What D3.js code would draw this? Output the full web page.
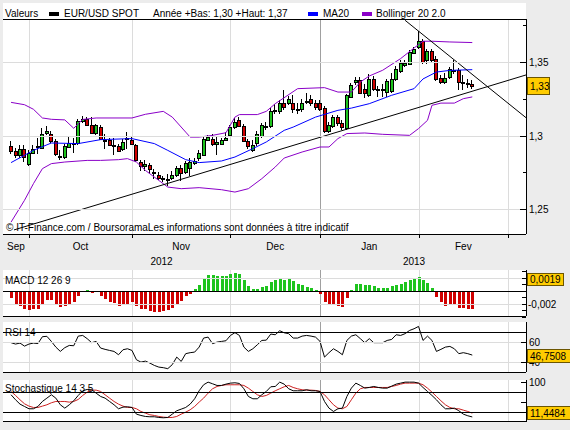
<!DOCTYPE html>
<html>
<head>
<meta charset="utf-8">
<script src="https://cdn.jsdelivr.net/npm/d3@7"></script>
<style>
  body { margin: 0; background: #ececec; }
  svg text { font-family: "Liberation Sans", Arial, sans-serif; font-size: 10px; fill: #000; }
</style>
</head>
<body>
<script>
// ---- data (trading days from 25 Sep 2012, index 0) ----
const opens = [1.2929,1.2898,1.2871,1.2912,1.2807,1.2885,1.2927,1.2916,1.3016,1.3014,
1.2963,1.2861,1.2857,1.2925,1.2944,1.2950,1.3097,1.3111,1.3075,1.3020,
1.3061,1.2971,1.2968,1.2939,1.2927,1.2907,1.2978,1.2973,1.2934,1.2823,
1.2792,1.2803,1.2751,1.2735,1.2710,1.2708,1.2712,1.2732,1.2783,1.2751,
1.2778,1.2814,1.2851,1.2871,1.2973,1.2977,1.2946,1.2946,1.2973,1.3002,
1.3058,1.3109,1.3068,1.2963,1.2905,1.2948,1.2997,1.3061,1.3065,1.3165,
1.3165,1.3224,1.3224,1.3224,1.3172,1.3179,1.3233,1.3246,1.3224,1.3224,
1.3187,1.3034,1.3065,1.3124,1.3084,1.3052,1.3265,1.3364,1.3378,1.3319,
1.3274,1.3382,1.3314,1.3319,1.3296,1.3301,1.3382,1.3437,1.3477,1.3486,
1.3564,1.3602,1.3642,1.3511,1.3574,1.3523,1.3394,1.3364,1.3398,1.3448,
1.3448,1.3364,1.3357,1.3348];
const highs = [1.2966,1.2916,1.2934,1.2934,1.2900,1.2939,1.2982,1.3050,1.3065,1.3029,
1.2975,1.2900,1.2941,1.2988,1.2984,1.3111,1.3133,1.3128,1.3124,1.3077,
1.3070,1.3009,1.2982,1.2984,1.2941,1.2975,1.3022,1.2988,1.2941,1.2837,
1.2832,1.2812,1.2771,1.2751,1.2724,1.2737,1.2758,1.2792,1.2798,1.2825,
1.2846,1.2846,1.2900,1.2988,1.3005,1.3009,1.2995,1.2982,1.3022,1.3070,
1.3117,1.3124,1.3077,1.2975,1.2968,1.3034,1.3084,1.3090,1.3185,1.3213,
1.3240,1.3308,1.3267,1.3274,1.3219,1.3246,1.3287,1.3274,1.3240,1.3240,
1.3199,1.3090,1.3138,1.3138,1.3104,1.3280,1.3355,1.3396,1.3396,1.3348,
1.3416,1.3403,1.3335,1.3348,1.3382,1.3423,1.3471,1.3511,1.3511,1.3579,
1.3600,1.3708,1.3654,1.3586,1.3586,1.3538,1.3409,1.3423,1.3464,1.3516,
1.3457,1.3409,1.3382,1.3375];
const lows = [1.2885,1.2853,1.2853,1.2830,1.2803,1.2880,1.2880,1.2914,1.3009,1.2958,
1.2871,1.2844,1.2846,1.2921,1.2889,1.2946,1.3090,1.3070,1.3016,1.3009,
1.2975,1.2916,1.2934,1.2878,1.2893,1.2900,1.2914,1.2941,1.2829,1.2764,
1.2764,1.2751,1.2715,1.2703,1.2692,1.2663,1.2703,1.2726,1.2696,1.2744,
1.2730,1.2805,1.2832,1.2866,1.2968,1.2934,1.2878,1.2941,1.2968,1.2995,
1.3054,1.3063,1.2961,1.2917,1.2897,1.2934,1.2988,1.3043,1.3056,1.3151,
1.3151,1.3182,1.3213,1.3158,1.3151,1.3165,1.3219,1.3206,1.3179,1.3172,
1.3022,1.3022,1.3056,1.3070,1.3043,1.3046,1.3260,1.3348,1.3287,1.3260,
1.3267,1.3308,1.3267,1.3267,1.3267,1.3294,1.3375,1.3430,1.3471,1.3484,
1.3559,1.3593,1.3491,1.3491,1.3498,1.3375,1.3355,1.3355,1.3389,1.3423,
1.3314,1.3314,1.3328,1.3321];
const closes = [1.2898,1.2871,1.2912,1.2857,1.2885,1.2912,1.2932,1.3014,1.3034,1.2963,
1.2878,1.2853,1.2927,1.2952,1.2948,1.3097,1.3115,1.3075,1.3020,1.3070,
1.2980,1.2968,1.2939,1.2929,1.2898,1.2957,1.2982,1.2946,1.2832,1.2796,
1.2810,1.2776,1.2747,1.2710,1.2707,1.2705,1.2735,1.2783,1.2746,1.2814,
1.2819,1.2825,1.2882,1.2980,1.2990,1.2941,1.2955,1.2973,1.2986,1.3058,
1.3095,1.3068,1.2963,1.2927,1.2936,1.3009,1.3070,1.3066,1.3165,1.3172,
1.3224,1.3192,1.3246,1.3183,1.3183,1.3224,1.3236,1.3219,1.3192,1.3183,
1.3029,1.3070,1.3124,1.3084,1.3056,1.3274,1.3342,1.3378,1.3292,1.3292,
1.3382,1.3314,1.3312,1.3312,1.3369,1.3382,1.3455,1.3491,1.3491,1.3568,
1.3586,1.3642,1.3500,1.3574,1.3511,1.3387,1.3364,1.3394,1.3455,1.3439,
1.3364,1.3362,1.3355,1.3338];

// MA20 and Bollinger bands, read at sample days
const maIdx = [0,5,9,15,20,27,32,35,39,42,47,50,54,57,61,63,68,73,76,80,85,90,92,95,98,103];
const maVal = [1.2817,1.2900,1.2950,1.2946,1.2973,1.2980,1.2946,1.2900,1.2837,1.2817,1.2828,1.2855,1.2912,1.2957,1.3036,1.3058,1.3126,1.3172,1.3187,1.3217,1.3274,1.3319,1.3385,1.3432,1.3443,1.3448];
const upIdx = [0,3,5,7,9,12,14,16,19,27,30,34,36,39,40,42,45,48,50,51,55,57,59,64,70,73,76,78,80,83,87,90,92,94,98,103];
const upVal = [1.3226,1.3210,1.3179,1.3120,1.3111,1.3107,1.3050,1.3110,1.3120,1.3120,1.3145,1.3165,1.3126,1.3024,1.2990,1.2990,1.3002,1.3020,1.3126,1.3143,1.3143,1.3165,1.3217,1.3319,1.3326,1.3296,1.3296,1.3364,1.3405,1.3444,1.3523,1.3595,1.3641,1.3641,1.3636,1.3632];
const loIdx = [0,3,5,7,9,12,17,20,24,26,28,30,33,35,38,42,47,50,53,56,59,61,65,69,71,73,75,79,83,89,91,93,94,96,99,101,103];
const loVal = [1.2413,1.2561,1.2674,1.2776,1.2810,1.2821,1.2832,1.2832,1.2837,1.2844,1.2821,1.2764,1.2696,1.2651,1.2640,1.2647,1.2633,1.2617,1.2640,1.2708,1.2787,1.2848,1.2889,1.2923,1.2923,1.2980,1.3014,1.3018,1.3009,1.3002,1.3048,1.3104,1.3206,1.3221,1.3221,1.3251,1.3263];

// trend lines [day index, price]
const trendUp = [[0.65, 1.2360], [115, 1.3412]];
const trendDown = [[88, 1.3783], [115, 1.3122]];

const macdHist = [-0.00103,-0.00195,-0.00226,-0.00277,-0.00287,-0.00277,-0.00277,-0.00200,-0.00139,-0.00144,
-0.00200,-0.00241,-0.00226,-0.00200,-0.00174,-0.00072,-0.00010,0.00021,-0.00026,0.00003,
-0.00072,-0.00123,-0.00164,-0.00190,-0.00226,-0.00205,-0.00195,-0.00174,-0.00226,-0.00277,
-0.00282,-0.00303,-0.00318,-0.00328,-0.00308,-0.00292,-0.00257,-0.00205,-0.00154,-0.00077,
-0.00041,0.00031,0.00092,0.00195,0.00246,0.00246,0.00231,0.00231,0.00236,0.00257,
0.00277,0.00257,0.00169,0.00077,0.00031,0.00031,0.00062,0.00072,0.00144,0.00169,
0.00195,0.00169,0.00195,0.00154,0.00103,0.00092,0.00067,0.00051,0.00021,-0.00046,
-0.00164,-0.00215,-0.00215,-0.00226,-0.00241,-0.00113,0.00021,0.00108,0.00108,0.00092,
0.00092,0.00082,0.00051,0.00041,0.00051,0.00082,0.00092,0.00103,0.00144,0.00169,
0.00185,0.00221,0.00169,0.00128,0.00051,-0.00087,-0.00174,-0.00226,-0.00205,-0.00205,
-0.00257,-0.00267,-0.00282,-0.00282];

const rsi = [59.4,58,59,55.9,58,59,58.5,65.5,65.9,60.7,
54.9,50.5,54.3,56.6,56.3,66.1,66.8,63.5,59.4,60.7,
53.9,52.6,51.5,50.5,47.1,52.2,53.2,51.5,42,39.6,
40.6,38.6,36.2,34.5,33.9,32.9,37,44.7,40.3,48.2,
49.2,49.8,54.9,64.1,65.1,58.4,60,60.7,61.4,66.8,
69.6,66.8,54.9,50.5,53.2,57.3,61.7,62,68.2,67.5,
71.6,69.5,68.6,64.1,64.1,66.1,66.8,66.1,65.1,60.7,
44.7,49.2,53.2,50.5,47.1,61.7,66.1,67.5,63.5,59.4,
63.5,59.4,59.4,59.4,61.7,62.7,67.5,66.8,68.6,71.9,
73.6,76,61.7,66.1,61.7,50.5,52.6,54.9,55.6,53.2,
48.2,49.2,48.2,46.75];

const stochK = [66.8,54.3,43.4,37.6,31.8,31.8,37.6,50.1,58.4,66.8,
58.4,41.8,33.4,41.8,51.8,65.1,76.8,80.1,79.3,70.9,
62.6,58.4,50.1,41.8,31.8,35.9,36.8,35.1,18.4,15.1,
12.6,11.8,11.8,10.1,9.3,10.1,18.4,26.8,30.9,35.1,
43.4,56.8,76.8,91.8,98.4,94.3,90.1,90.1,93.4,95.9,
96.8,95.1,81.8,62.6,56.8,56.8,66.8,75.1,86.8,87.6,
98.4,93.4,81.8,76.8,76.8,76.8,79.3,76.8,76.8,75.1,
50.1,33.4,25.1,31.8,33.4,62.6,83.4,95.9,90.1,83.4,
85.1,87.6,85.1,83.4,83.4,88.4,93.4,95.9,98.4,98.4,
98.4,95.9,85.1,75.1,65.1,54.3,41.8,31.8,31.8,33.4,
26.8,18.4,14.3,11.4];
const stochD = [75.1,65.1,54.3,44.3,38.4,35.1,35.1,38.4,41.8,46.8,
50.1,50.1,50.1,48.4,50.1,55.1,65.1,73.4,78.4,78.4,
75.1,66.8,58.4,50.1,43.4,38.4,35.1,35.1,31.8,25.1,
20.9,16.8,15.1,12.6,10.9,10.1,10.1,12.6,18.4,23.4,
29.3,37.6,48.4,58.4,70.9,81.8,87.6,90.1,91.8,91.8,
91.8,91.8,90.1,83.4,75.1,66.8,62.6,65.1,70.9,76.8,
81.8,86.8,90.1,85.1,81.8,79.3,78.4,78.4,77.6,75.1,
66.8,54.3,41.8,33.4,31.8,37.6,54.3,70.9,81.8,85.1,
85.1,85.1,85.1,85.1,85.1,87.6,90.1,93.4,95.9,95.9,
95.9,95.9,91.8,83.4,73.4,62.6,51.8,41.8,35.1,31.8,
31.8,28.4,25.1,20.9];

const monthStarts = [4, 27, 49, 69, 91, 111];
const monthLabels = ["Sep", "Oct", "Nov", "Dec", "Jan", "Fev"];
const yearLabels = ["2012", "2013"];
const yearBreak = 69;
const priceTicks = [1.25, 1.3, 1.35];
const priceMinor = [1.275, 1.325, 1.375];
const macdTicks = [-0.004, -0.003, -0.002, -0.001, 0.001, 0.002, 0.003];

const lastPrice = "1,33", lastMacd = 0.0019, lastRsi = 46.7508, lastStoch = 11.4484;

// ---- layout ----
const w = 570, h = 430;
const left = 3, right = 526;
const green = "#1ec41e", red = "#d00000", grid = "#dcdcdc";

const svg = d3.select("body").append("svg").attr("width", w).attr("height", h);
svg.append("rect").attr("width", w).attr("height", h).attr("fill", "#ececec");
const defs = svg.append("defs");

const x = d3.scaleLinear().domain([-1.8, 115]).range([left, right]);
const px = i => Math.round(x(i));
const comma = v => String(v).replace(".", ",");

function hline(y, color, x1 = left, x2 = right) {
  svg.append("line").attr("x1", x1).attr("x2", x2)
    .attr("y1", Math.round(y) + 0.5).attr("y2", Math.round(y) + 0.5)
    .attr("stroke", color);
}

function panel(id, bgTop, top, bottom) {
  svg.append("rect").attr("x", left).attr("y", bgTop)
    .attr("width", right - left).attr("height", bottom - bgTop).attr("fill", "#fff");
  monthStarts.forEach(m => {
    svg.append("line").attr("x1", px(m) + 0.5).attr("x2", px(m) + 0.5)
      .attr("y1", top).attr("y2", bottom)
      .attr("stroke", m === yearBreak ? "#a0a0a0" : grid);
  });
  defs.append("clipPath").attr("id", id).append("rect")
    .attr("x", left).attr("y", top).attr("width", right - left).attr("height", bottom - top);
  // right axis line
  svg.append("line").attr("x1", right + 0.5).attr("x2", right + 0.5)
    .attr("y1", top).attr("y2", bottom).attr("stroke", "#000");
  return svg.append("g").attr("clip-path", `url(#${id})`);
}

function tick(y, len) {
  svg.append("line").attr("x1", right - len).attr("x2", right)
    .attr("y1", Math.round(y) + 0.5).attr("y2", Math.round(y) + 0.5).attr("stroke", "#000");
}

function valueBox(yc, label, bw, bh, lo, hi) {
  const top = Math.max(lo, Math.min(hi - bh, Math.round(yc - bh / 2)));
  svg.append("rect").attr("x", right + 1.5).attr("y", top + 0.5)
    .attr("width", bw).attr("height", bh).attr("fill", "#ffcc00").attr("stroke", "#6b5500");
  svg.append("text").attr("x", right + 4).attr("y", top + bh / 2 + 4).text(label);
}

const lineGen = (xs, ys, yScale) => d3.line()
  .x((d, k) => x(xs[k])).y(d => yScale(d))(ys);

// ---- main price panel ----
const yMain = d3.scaleLinear().domain([1.25, 1.35]).range([209.3, 62]);
const gMain = panel("clipMain", 3, 19, 234);
priceTicks.forEach(p => hline(yMain(p), grid));

const days = d3.range(closes.length);
const cg = gMain.append("g").attr("shape-rendering", "crispEdges");
cg.selectAll("line.wick").data(days).join("line")
  .attr("x1", i => px(i) - 0.5).attr("x2", i => px(i) - 0.5)
  .attr("y1", i => Math.round(yMain(highs[i]))).attr("y2", i => Math.round(yMain(lows[i])) + 1)
  .attr("stroke", "#000");
cg.selectAll("rect").data(days).join("rect")
  .attr("x", i => px(i) - 1.5)
  .attr("y", i => Math.round(yMain(Math.max(opens[i], closes[i]))) + 0.5)
  .attr("width", 3)
  .attr("height", i => Math.max(1, Math.round(yMain(Math.min(opens[i], closes[i]))) - Math.round(yMain(Math.max(opens[i], closes[i])))))
  .attr("fill", i => closes[i] >= opens[i] ? green : red)
  .attr("stroke", "#000");

gMain.append("path").attr("d", lineGen(maIdx, maVal, yMain)).attr("fill", "none").attr("stroke", "#0000ff");
gMain.append("path").attr("d", lineGen(upIdx, upVal, yMain)).attr("fill", "none").attr("stroke", "#8a00c8");
gMain.append("path").attr("d", lineGen(loIdx, loVal, yMain)).attr("fill", "none").attr("stroke", "#8a00c8");
[trendUp, trendDown].forEach(t => {
  gMain.append("line").attr("x1", x(t[0][0])).attr("y1", yMain(t[0][1]))
    .attr("x2", x(t[1][0])).attr("y2", yMain(t[1][1])).attr("stroke", "#000");
});

hline(19, "#000");
hline(234, "#000");
priceTicks.forEach(p => {
  tick(yMain(p), 6);
  svg.append("text").attr("x", right + 3).attr("y", yMain(p) + 4).text(comma(p));
});
priceMinor.forEach(p => tick(yMain(p), 3));
valueBox(yMain(closes[closes.length - 1]), lastPrice, 22, 17, 20, 234);

svg.append("text").attr("x", 6).attr("y", 231)
  .text("\u00a9 IT-Finance.com / BoursoramaLes informations sont données à titre indicatif");

// legend row
const legend = svg.append("g");
legend.append("text").attr("x", 5).attr("y", 16.5).text("Valeurs");
legend.append("rect").attr("x", 49).attr("y", 12).attr("width", 10).attr("height", 4).attr("fill", "#000");
legend.append("text").attr("x", 64).attr("y", 16.5).text("EUR/USD SPOT");
legend.append("text").attr("x", 153).attr("y", 16.5).text("Année +Bas: 1,30 +Haut: 1,37");
legend.append("rect").attr("x", 308).attr("y", 12).attr("width", 10).attr("height", 4).attr("fill", "#0000ff");
legend.append("text").attr("x", 323).attr("y", 16.5).text("MA20");
legend.append("rect").attr("x", 362).attr("y", 12).attr("width", 10).attr("height", 4).attr("fill", "#8a00c8");
legend.append("text").attr("x", 376).attr("y", 16.5).text("Bollinger 20 2.0");

// date axis
monthStarts.forEach(m => {
  svg.append("line").attr("x1", px(m) + 0.5).attr("x2", px(m) + 0.5)
    .attr("y1", 234).attr("y2", 238).attr("stroke", "#000");
});
const bounds = [x.domain()[0]].concat(monthStarts);
monthLabels.forEach((lab, k) => {
  svg.append("text").attr("x", x((bounds[k] + bounds[k + 1]) / 2)).attr("y", 249.5)
    .attr("text-anchor", "middle").text(lab);
});
const yearBounds = [x.domain()[0], yearBreak, monthStarts[monthStarts.length - 1]];
yearLabels.forEach((lab, k) => {
  svg.append("text").attr("x", x((yearBounds[k] + yearBounds[k + 1]) / 2)).attr("y", 264.5)
    .attr("text-anchor", "middle").text(lab);
});

// ---- MACD ----
const yMacd = d3.scaleLinear().domain([-0.00385, 0.00323]).range([316, 270]);
const gMacd = panel("clipMacd", 270, 270, 316);
[0.002, -0.002].forEach(v => hline(yMacd(v), grid));
gMacd.append("g").attr("shape-rendering", "crispEdges")
  .selectAll("rect").data(days).join("rect")
  .attr("x", i => px(i) - 1).attr("width", 3)
  .attr("y", i => Math.round(Math.min(yMacd(0), yMacd(macdHist[i]))))
  .attr("height", i => Math.max(1, Math.round(Math.abs(yMacd(macdHist[i]) - yMacd(0)))))
  .attr("fill", i => macdHist[i] >= 0 ? green : red);
hline(yMacd(0), "#000");
hline(316, "#000");
macdTicks.forEach(v => tick(yMacd(v), 4));
svg.append("text").attr("x", right + 2).attr("y", yMacd(-0.002) + 4).text("-0,002");
valueBox(yMacd(lastMacd), comma(lastMacd), 36, 12, 271, 316);
svg.append("text").attr("x", 5).attr("y", 283.5).text("MACD 12 26 9");

// ---- RSI ----
const yRsi = d3.scaleLinear().domain([29.5, 80.5]).range([372, 322]);
const gRsi = panel("clipRsi", 322, 322, 372);
[60, 40].forEach(v => hline(yRsi(v), grid));
hline(yRsi(70), "#000");
hline(372, "#000");
gRsi.append("path").attr("d", lineGen(days, rsi, yRsi)).attr("fill", "none").attr("stroke", "#000");
[60, 40].forEach(v => {
  tick(yRsi(v), 5);
  svg.append("text").attr("x", right + 3).attr("y", yRsi(v) + 4).text(v);
});
valueBox(yRsi(lastRsi), comma(lastRsi), 43, 13, 323, 372);
svg.append("text").attr("x", 5).attr("y", 336).text("RSI 14");

// ---- Stochastic ----
const yStoch = d3.scaleLinear().domain([0, 100]).range([421.5, 381.5]);
const gStoch = panel("clipStoch", 380, 380, 422);
hline(yStoch(75), "#000");
hline(yStoch(25), "#000");
hline(421, "#000");
gStoch.append("path").attr("d", lineGen(days, stochD, yStoch)).attr("fill", "none").attr("stroke", "#cc2020");
gStoch.append("path").attr("d", lineGen(days, stochK, yStoch)).attr("fill", "none").attr("stroke", "#000");
[100, 50].forEach(v => tick(yStoch(v), 5));
svg.append("text").attr("x", right + 3).attr("y", yStoch(100) + 4).text("100");
valueBox(yStoch(lastStoch), comma(lastStoch), 43, 13, 381, 419);
svg.append("text").attr("x", 5).attr("y", 392).text("Stochastique 14 3 5");
</script>
</body>
</html>
